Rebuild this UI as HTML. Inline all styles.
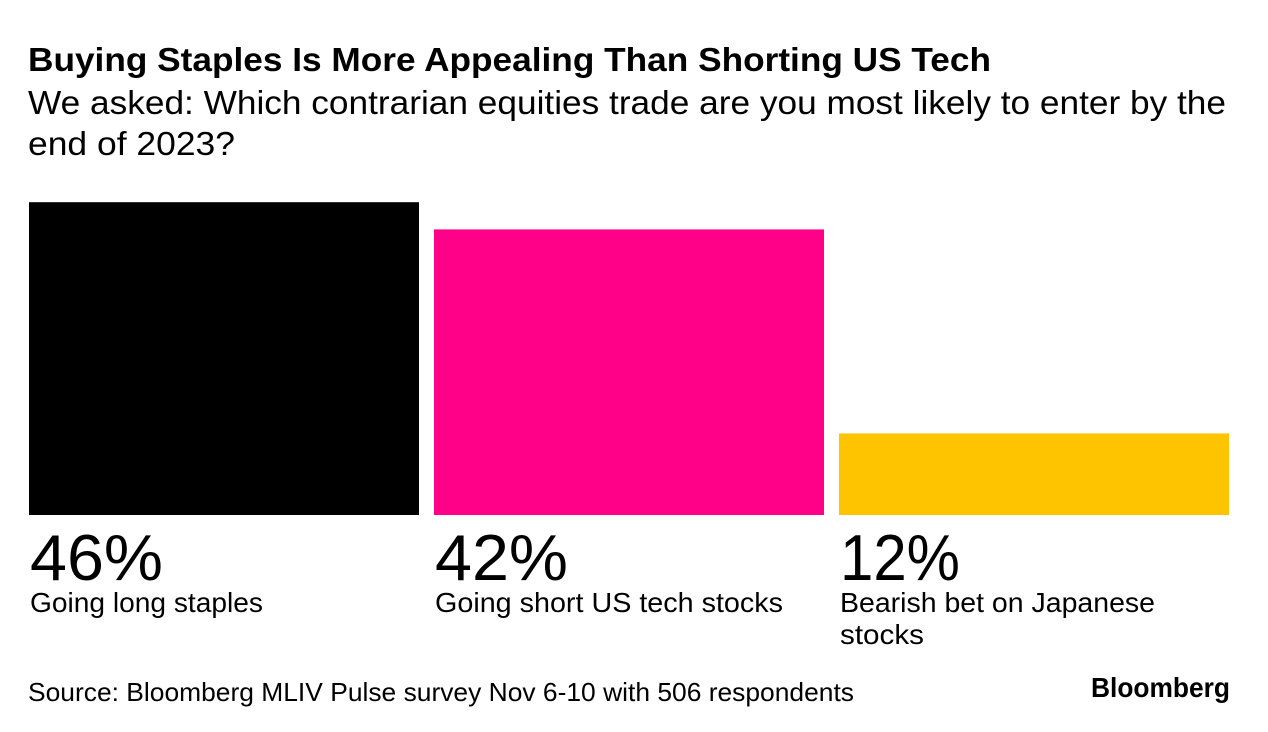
<!DOCTYPE html>
<html>
<head>
<meta charset="utf-8">
<style>
html,body{margin:0;padding:0;background:#fff;width:1268px;height:732px;overflow:hidden}
svg{display:block;font-family:"Liberation Sans",sans-serif;fill:#000}
</style>
</head>
<body>
<svg id="chart" width="1268" height="732" viewBox="0 0 1268 732" xmlns="http://www.w3.org/2000/svg">
  <rect width="1268" height="732" fill="#fff"/>
  <text x="28" y="71" font-size="33" font-weight="700" textLength="963" lengthAdjust="spacingAndGlyphs">Buying Staples Is More Appealing Than Shorting US Tech</text>
  <text x="28" y="114" font-size="33" textLength="1198" lengthAdjust="spacingAndGlyphs">We asked: Which contrarian equities trade are you most likely to enter by the</text>
  <text x="28" y="155" font-size="33" textLength="207" lengthAdjust="spacingAndGlyphs">end of 2023?</text>
  <g id="bars"></g>
  <text x="28" y="701" font-size="26" textLength="826" lengthAdjust="spacingAndGlyphs">Source: Bloomberg MLIV Pulse survey Nov 6-10 with 506 respondents</text>
  <text x="1091" y="697" font-size="28" font-weight="700" textLength="139" lengthAdjust="spacingAndGlyphs">Bloomberg</text>
</svg>
<script>
var categories = [["Going long staples"], ["Going short US tech stocks"], ["Bearish bet on Japanese", "stocks"]];
var values = [46, 42, 12];
var valueLabels = ["46%", "42%", "12%"];
var colors = ["#000000", "#ff0089", "#ffc400"];

var plotLeft = 29, bandStep = 405, bandWidth = 390, baseline = 515, pxPerUnit = 6.8;
var valueLabelFit = 133, narrowValueLabelFit = 120;
var categoryLineFit = [[233], [348], [315, 84]];
function xScale(i) { return plotLeft + i * bandStep; }
function yScale(v) { return baseline - v * pxPerUnit; }

var NS = "http://www.w3.org/2000/svg";
var group = document.getElementById("bars");
values.forEach(function (v, i) {
  var bar = document.createElementNS(NS, "rect");
  
  
  bar.setAttribute("x", xScale(i));
  bar.setAttribute("y", yScale(v));
  bar.setAttribute("width", bandWidth);
  bar.setAttribute("height", baseline - yScale(v));
  bar.setAttribute("fill", colors[i]);
  group.appendChild(bar);

  var valueText = document.createElementNS(NS, "text");
  
  
  valueText.setAttribute("x", xScale(i) + 1);
  valueText.setAttribute("y", 580);
  valueText.setAttribute("font-size", "65");
  valueText.setAttribute("lengthAdjust", "spacingAndGlyphs");
  valueText.setAttribute("textLength", valueLabels[i].charAt(0) === "1" ? narrowValueLabelFit : valueLabelFit);
  valueText.textContent = valueLabels[i];
  group.appendChild(valueText);

  categories[i].forEach(function (line, j) {
    var label = document.createElementNS(NS, "text");
    
    
    label.setAttribute("x", xScale(i) + 1);
    label.setAttribute("y", 612 + j * 32);
    label.setAttribute("font-size", "27.5");
    label.setAttribute("lengthAdjust", "spacingAndGlyphs");
    label.setAttribute("textLength", categoryLineFit[i][j]);
    label.textContent = line;
    group.appendChild(label);
  });
});
</script>
</body>
</html>
